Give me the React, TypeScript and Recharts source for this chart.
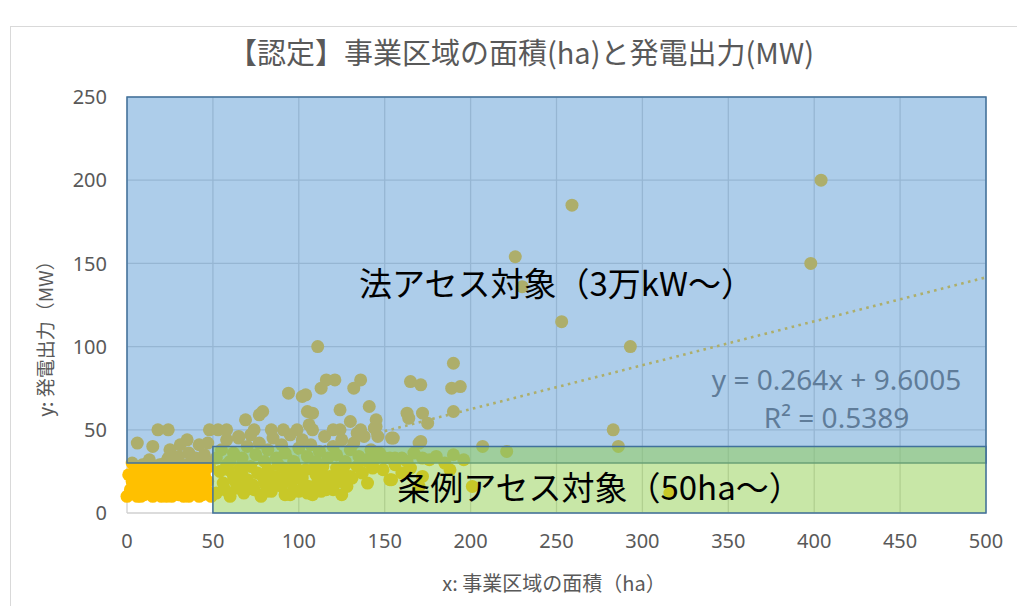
import {
  CartesianGrid,
  ReferenceArea,
  ReferenceDot,
  ReferenceLine,
  Scatter,
  ScatterChart,
  XAxis,
  YAxis,
} from "recharts";

const xTicks = [0, 50, 100, 150, 200, 250, 300, 350, 400, 450, 500];
const yTicks = [0, 50, 100, 150, 200, 250];

// [area ha, output MW]
const smallSites: [number, number][] = [
  [0, 10], [1, 23], [2, 14], [3, 19], [4, 12], [5, 27], [6, 10], [7, 22], [8, 15], [9, 29],
  [10, 11], [10, 19], [11, 25], [12, 13], [13, 21], [14, 28], [15, 10], [16, 17], [17, 24],
  [18, 12], [19, 29], [20, 20], [21, 14], [22, 26], [23, 10], [24, 18], [25, 23], [26, 12],
  [27, 29], [28, 16], [29, 21], [30, 11], [31, 26], [32, 18], [33, 13], [34, 24], [35, 29],
  [36, 10], [37, 20], [38, 15], [39, 27], [40, 12], [41, 22], [42, 17], [43, 29], [44, 11],
  [45, 24], [46, 14], [47, 19], [48, 28], [49, 10], [3, 30], [12, 30], [22, 30], [28, 30],
  [38, 30], [46, 30], [20, 10], [33, 10], [42, 10], [8, 10], [26, 10],
];

const lowBandSites: [number, number][] = [
  [6, 42], [15, 40], [13, 32], [25, 38], [31, 41], [36, 36], [42, 41], [45, 35], [40, 33],
  [30, 34], [24, 33], [35, 44], [28, 31], [47, 42], [18, 50], [24, 50], [48, 50],
  [52, 12], [54, 25], [56, 18], [58, 29], [60, 10], [62, 22], [64, 15], [66, 27], [68, 12],
  [70, 20], [72, 28], [74, 14], [76, 24], [78, 10], [80, 18], [82, 26], [84, 13], [86, 22],
  [88, 29], [90, 16], [92, 11], [94, 24], [96, 19], [98, 28], [100, 13], [102, 21], [104, 26],
  [106, 16], [108, 11], [110, 23], [112, 18], [114, 28], [116, 14], [118, 22], [120, 14],
  [122, 27], [124, 19], [126, 24], [128, 16], [131, 21], [134, 28], [137, 24], [140, 18],
  [143, 27], [149, 26], [154, 20], [156, 29], [160, 24], [165, 27], [170, 16], [172, 22],
  [188, 26], [201, 16], [111, 18], [95, 11], [57, 14], [63, 19], [67, 23], [73, 17], [79, 22],
  [85, 17], [91, 27], [97, 14], [103, 17], [109, 27], [115, 22], [121, 21], [127, 29],
  [59, 26], [69, 16], [81, 13], [89, 20], [99, 23], [105, 12], [113, 13], [119, 17], [125, 11],
  [130, 22], [143, 28], [153, 20],
];

const midBandSites: [number, number][] = [
  [52, 33], [55, 38], [58, 44], [60, 31], [62, 36], [65, 45], [67, 33], [70, 40], [72, 47],
  [75, 35], [77, 42], [80, 31], [82, 38], [85, 45], [87, 33], [90, 41], [92, 36], [95, 47],
  [97, 31], [100, 39], [102, 44], [105, 34], [107, 41], [110, 31], [112, 37], [115, 46],
  [117, 33], [120, 40], [122, 35], [125, 44], [127, 31], [130, 38], [132, 42], [135, 34],
  [138, 46], [140, 31], [142, 38], [145, 33], [147, 36], [150, 33], [153, 33], [156, 33],
  [160, 33], [163, 31], [167, 36], [172, 33], [176, 32], [180, 34], [185, 30], [190, 35],
  [196, 32], [142, 34], [170, 42], [154, 45], [146, 46], [155, 45], [171, 43],
];

const upperSites: [number, number][] = [
  [53, 50], [58, 50], [74, 50], [65, 46], [69, 56], [77, 59], [79, 61], [84, 50], [91, 50],
  [99, 50], [106, 53], [108, 50], [120, 50], [124, 50], [134, 48], [130, 55], [105, 61],
  [108, 60], [124, 62], [141, 64], [94, 72], [104, 71], [102, 70], [113, 75], [116, 80],
  [121, 80], [136, 80], [132, 75], [111, 100], [144, 51], [136, 50], [145, 52], [145, 56],
  [163, 60], [164, 57], [172, 60], [175, 54], [190, 61], [165, 79], [171, 77], [189, 75],
  [194, 76], [190, 90], [207, 40], [221, 37],
];

const outlierSites: [number, number][] = [
  [404, 200], [398, 150], [259, 185], [226, 154], [230, 136], [253, 115], [293, 100],
  [283, 50], [286, 40], [316, 12],
];

const sites = [...smallSites, ...lowBandSites, ...midBandSites, ...upperSites, ...outlierSites].map(
  ([x, y]) => ({ x, y }),
);

const trendSlope = 0.264;
const trendIntercept = 9.6005;
const trendRange = [0, 500];

const lawMinMw = 30;
const ordinanceMinHa = 50;
const ordinanceBandTopMw = 40;

const tickStyle = { fill: "#595959", fontSize: 20, fontFamily: "Noto Sans" };
const cjk = "'Noto Sans CJK JP', 'Noto Sans', sans-serif";

function SiteDot(props: any) {
  const { cx, cy } = props;
  if (cx == null || cy == null) return null;
  return <circle cx={cx} cy={cy} r={6.5} fill="#ffc000" />;
}

export default function App() {
  return (
    <div
      style={{
        position: "absolute",
        left: 0,
        top: 0,
        width: 1017,
        height: 606,
        overflow: "hidden",
        background: "#fff",
      }}
    >
      <div
        style={{
          position: "absolute",
          left: 10,
          top: 26,
          width: 1100,
          height: 700,
          border: "1px solid #d9d9d9",
        }}
      />
      <div style={{ position: "absolute", left: 0, top: 0 }}>
        <ScatterChart width={1017} height={606} margin={{ top: 97, right: 31, bottom: 8, left: 27 }}>
          <CartesianGrid stroke="#d0d0d0" strokeWidth={1.3} />
          <XAxis
            type="number"
            dataKey="x"
            domain={[0, 500]}
            ticks={xTicks}
            axisLine={false}
            tickLine={false}
            tick={tickStyle}
            tickMargin={15}
            height={85}
          />
          <YAxis
            type="number"
            dataKey="y"
            domain={[0, 250]}
            ticks={yTicks}
            axisLine={false}
            tickLine={false}
            tick={tickStyle}
            tickMargin={14}
            width={100}
          />
          <Scatter data={sites} shape={<SiteDot />} isAnimationActive={false} />
          <ReferenceLine
            segment={trendRange.map((x) => ({ x, y: trendSlope * x + trendIntercept }))}
            stroke="#ffc000"
            strokeWidth={2.6}
            strokeDasharray="2.6 4.4"
            zIndex={650}
          />
          <ReferenceArea
            x1={0}
            x2={500}
            y1={lawMinMw}
            y2={250}
            fill="#5b9bd5"
            fillOpacity={0.5}
            stroke="#41719c"
            strokeWidth={1.5}
            zIndex={700}
            label={{
              value: "法アセス対象（3万kW～）",
              position: "insideTop",
              offset: 176,
              fill: "#000",
              fontSize: 33,
              fontFamily: cjk,
            }}
          />
          <ReferenceArea
            x1={ordinanceMinHa}
            x2={500}
            y1={0}
            y2={ordinanceBandTopMw}
            fill="#92d050"
            fillOpacity={0.5}
            stroke="#41719c"
            strokeWidth={1.5}
            zIndex={710}
            label={{
              value: "条例アセス対象（50ha～）",
              position: "insideBottom",
              offset: 13,
              fill: "#000",
              fontSize: 33,
              fontFamily: cjk,
            }}
          />
          <ReferenceDot
            x={413}
            y={80}
            r={0}
            fill="none"
            stroke="none"
            zIndex={800}
            label={{
              value: "y = 0.264x + 9.6005",
              position: "center",
              fill: "#5f7c99",
              fontSize: 28,
              fontFamily: "Noto Sans",
            }}
          />
          <ReferenceDot
            x={413}
            y={57}
            r={0}
            fill="none"
            stroke="none"
            zIndex={800}
            label={{
              value: "R² = 0.5389",
              position: "center",
              fill: "#5f7c99",
              fontSize: 28,
              fontFamily: "Noto Sans",
            }}
          />
        </ScatterChart>
      </div>
      <div
        style={{
          position: "absolute",
          left: 171,
          top: 33,
          width: 700,
          textAlign: "center",
          fontFamily: cjk,
          fontSize: 29,
          color: "#595959",
          lineHeight: "36px",
        }}
      >
        【認定】事業区域の面積(ha)と発電出力(MW)
      </div>
      <div
        style={{
          position: "absolute",
          left: 354,
          top: 569,
          width: 400,
          textAlign: "center",
          fontFamily: cjk,
          fontSize: 20,
          color: "#595959",
          lineHeight: "28px",
        }}
      >
        x: 事業区域の面積（ha）
      </div>
      <div
        style={{
          position: "absolute",
          left: 45 - 150,
          top: 334 - 14,
          width: 300,
          textAlign: "center",
          fontFamily: cjk,
          fontSize: 19,
          color: "#595959",
          lineHeight: "28px",
          transform: "rotate(-90deg)",
        }}
      >
        y: 発電出力（MW）
      </div>
    </div>
  );
}
